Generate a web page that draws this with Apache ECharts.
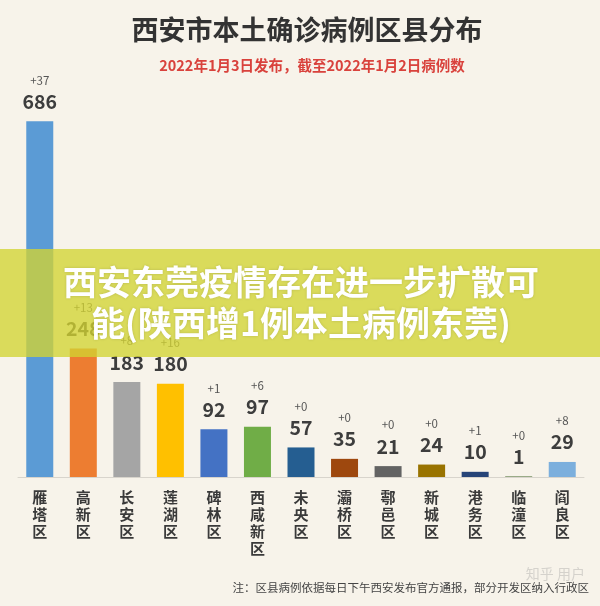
<!DOCTYPE html>
<html>
<head>
<meta charset="utf-8">
<script src="https://cdn.jsdelivr.net/npm/echarts@6/dist/echarts.min.js"></script>
<style>
  html, body { margin: 0; padding: 0; background: #f7f3ea; }
  #chart { width: 600px; height: 606px; }
</style>
</head>
<body>
<div id="chart"></div>
<script>
const categories = ['雁塔区', '高新区', '长安区', '莲湖区', '碑林区', '西咸新区', '未央区', '灞桥区', '鄠邑区', '新城区', '港务区', '临潼区', '阎良区'];
const totals = [686, 248, 183, 180, 92, 97, 57, 35, 21, 24, 10, 1, 29];
const increments = ['+37', '+13', '+8', '+16', '+1', '+6', '+0', '+0', '+0', '+0', '+1', '+0', '+8'];
const barColors = ['#5b9bd5', '#ed7d31', '#a5a5a5', '#ffc000', '#4472c4', '#70ad47', '#255e91', '#9e480e', '#636363', '#997300', '#264478', '#43682b', '#7cafdd'];

const fontCJK = '"Noto Sans CJK SC", "Noto Sans", sans-serif';

let chart = echarts.init(document.getElementById('chart'));

let barData = totals.map((v, i) => ({
    value: v,
    itemStyle: { color: barColors[i] },
    label: { formatter: '{a|' + increments[i] + '}\n{b|' + v + '}' }
}));

chart.setOption({
    backgroundColor: '#f7f3ea',
    animation: false,
    grid: { left: 18, right: 16, top: 114, bottom: 129 },
    xAxis: {
        type: 'category',
        data: categories,
        axisTick: { show: false },
        axisLine: { lineStyle: { color: '#d8d4cc', width: 1 } },
        axisLabel: {
            interval: 0,
            margin: 12,
            fontFamily: fontCJK,
            fontSize: 15,
            fontWeight: 'bold',
            lineHeight: 17,
            color: '#3a3a3a',
            formatter: (v) => v.split('').join('\n')
        }
    },
    yAxis: {
        type: 'value',
        min: 0,
        max: 700,
        show: false,
        splitLine: { show: false }
    },
    series: [{
        type: 'bar',
        data: barData,
        barWidth: 27,
        label: {
            show: true,
            position: 'top',
            distance: 9,
            align: 'center',
            rich: {
                a: { fontFamily: fontCJK, fontSize: 11.5, color: '#555555', lineHeight: 20, align: 'center' },
                b: { fontFamily: fontCJK, fontSize: 19.5, fontWeight: 'bold', color: '#3d3d3d', lineHeight: 22, align: 'center' }
            }
        }
    }],
    graphic: [
        {
            type: 'text',
            x: 307,
            y: 30,
            style: {
                text: '西安市本土确诊病例区县分布',
                fill: '#333333',
                font: 'bold 27px "Noto Sans CJK SC", sans-serif',
                align: 'center',
                verticalAlign: 'middle'
            }
        },
        {
            type: 'text',
            x: 312,
            y: 65,
            style: {
                text: '2022年1月3日发布，截至2022年1月2日病例数',
                fill: '#d9423c',
                font: 'bold 14.5px "Noto Sans CJK SC", sans-serif',
                align: 'center',
                verticalAlign: 'middle'
            }
        },
        {
            type: 'rect',
            shape: { x: 0, y: 249, width: 600, height: 108 },
            style: { fill: 'rgba(210, 212, 50, 0.78)' },
            z: 100
        },
        {
            type: 'text',
            x: 301,
            y: 303,
            z: 101,
            style: {
                text: '西安东莞疫情存在进一步扩散可\n能(陕西增1例本土病例东莞)',
                fill: '#ffffff',
                font: 'bold 34px "Noto Sans CJK SC", sans-serif',
                lineHeight: 41,
                align: 'center',
                verticalAlign: 'middle',
                textShadowColor: 'rgba(0,0,0,0.15)',
                textShadowBlur: 3
            }
        },
        {
            type: 'text',
            x: 589,
            y: 588,
            style: {
                text: '注：区县病例依据每日下午西安发布官方通报，部分开发区纳入行政区',
                fill: '#444444',
                font: '11.5px "Noto Sans CJK SC", sans-serif',
                align: 'right',
                verticalAlign: 'middle'
            }
        },
        {
            type: 'text',
            x: 585,
            y: 574,
            style: {
                text: '知乎 用户',
                fill: 'rgba(150,150,150,0.35)',
                font: '14px "Noto Sans CJK SC", sans-serif',
                align: 'right',
                verticalAlign: 'middle'
            }
        }
    ]
});
</script>
</body>
</html>
